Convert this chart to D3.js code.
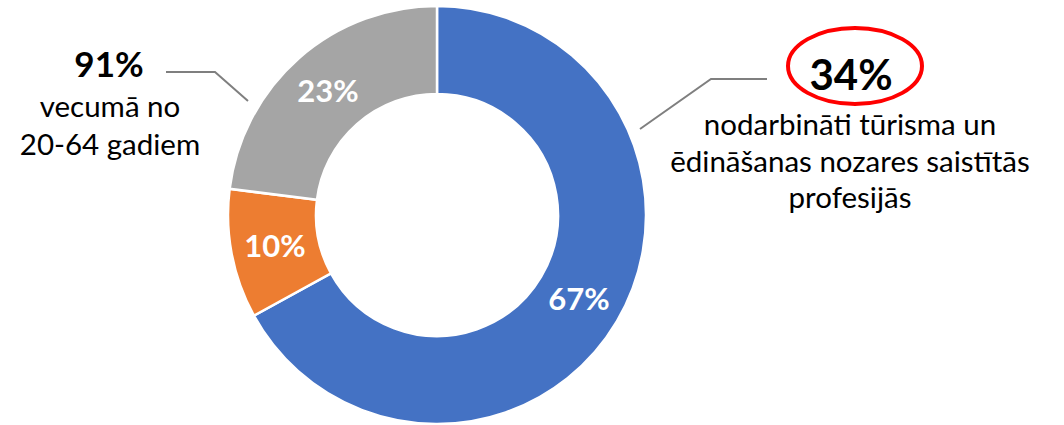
<!DOCTYPE html>
<html>
<head>
<meta charset="utf-8">
<script src="https://cdn.jsdelivr.net/npm/d3@7"></script>
<style>
  html, body { margin: 0; padding: 0; background: #fff; }
  svg { display: block; font-family: Lato, "Noto Sans", sans-serif; }
</style>
</head>
<body>
<svg id="chart" width="1064" height="425"></svg>
<script>
// ---- data ----
const categories = ["Kategorija 1", "Kategorija 2", "Kategorija 3"];
const values = [67, 10, 23];
const colors = ["#4472C4", "#ED7D31", "#A5A5A5"];

const leftNumber = "91%";
const leftLines = ["vecumā no", "20-64 gadiem"];
const rightNumber = "34%";
const rightLines = ["nodarbināti tūrisma un", "ēdināšanas nozares saistītās", "profesijās"];

// ---- layout ----
const svg = d3.select("#chart");
const cx = 437, cy = 215, rOuter = 209, rInner = 121;

const pie = d3.pie().sort(null).value(d => d.v);
const arcs = pie(categories.map((c, i) => ({ c, v: values[i], color: colors[i] })));
const arc = d3.arc().innerRadius(rInner).outerRadius(rOuter);
const labelArc = d3.arc().innerRadius((rInner + rOuter) / 2).outerRadius((rInner + rOuter) / 2);

const g = svg.append("g").attr("transform", `translate(${cx},${cy})`);
g.selectAll("path.slice").data(arcs).join("path")
  .attr("class", "slice")
  .attr("d", arc)
  .attr("fill", d => d.data.color)
  .attr("stroke", "#fff")
  .attr("stroke-width", 2.5);

g.selectAll("text.lbl").data(arcs).join("text")
  .attr("class", "lbl")
  .attr("transform", d => `translate(${labelArc.centroid(d)})`)
  .attr("text-anchor", "middle")
  .attr("dy", "0.36em")
  .attr("fill", "#fff")
  .attr("font-weight", "bold")
  .attr("font-size", 31)
  .text(d => d.data.v + "%");

// ---- leader lines ----
const lineColor = "#7F7F7F";
svg.append("polyline")
  .attr("points", "166,72 215,72 248,101")
  .attr("fill", "none").attr("stroke", lineColor).attr("stroke-width", 2);
svg.append("polyline")
  .attr("points", "640,129 711,79 767,79")
  .attr("fill", "none").attr("stroke", lineColor).attr("stroke-width", 2);

// ---- left annotation ----
svg.append("text")
  .attr("x", 109).attr("y", 77)
  .attr("text-anchor", "middle")
  .attr("font-weight", "bold").attr("font-size", 35)
  .attr("fill", "#000")
  .text(leftNumber);
svg.append("g").selectAll("text").data(leftLines).join("text")
  .attr("x", 110).attr("y", (d, i) => 117 + i * 38)
  .attr("text-anchor", "middle")
  .attr("font-size", 29.5)
  .attr("fill", "#000")
  .text(d => d);

// ---- right annotation ----
svg.append("ellipse")
  .attr("cx", 855).attr("cy", 66).attr("rx", 67).attr("ry", 38)
  .attr("fill", "none").attr("stroke", "#FF0000").attr("stroke-width", 4);
svg.append("text")
  .attr("x", 851).attr("y", 90)
  .attr("text-anchor", "middle")
  .attr("font-weight", "bold").attr("font-size", 42)
  .attr("fill", "#000")
  .text(rightNumber);
svg.append("g").selectAll("text").data(rightLines).join("text")
  .attr("x", 850).attr("y", (d, i) => 135 + i * 36.5)
  .attr("text-anchor", "middle")
  .attr("font-size", 29.5)
  .attr("fill", "#000")
  .text(d => d);
</script>
</body>
</html>
